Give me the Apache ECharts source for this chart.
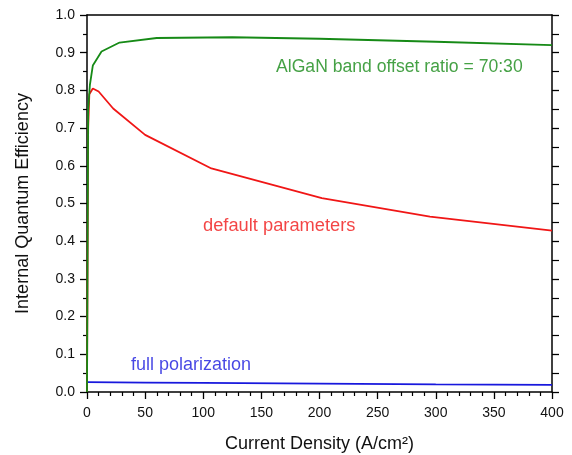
<!DOCTYPE html>
<html>
<head>
<meta charset="utf-8">
<script src="https://cdn.jsdelivr.net/npm/echarts@6/dist/echarts.min.js"></script>
<style>html,body{margin:0;padding:0;background:#fff;}#c{width:572px;height:455px;}</style>
</head>
<body>
<div id="c"></div>
<script>
// Data (x = current density A/cm^2, y = IQE)
const greenData = [[0,0],[1,0.75],[2.5,0.815],[5,0.866],[12.5,0.903],[28,0.927],[60,0.939],[125,0.941],[200,0.937],[300,0.929],[400,0.920]];
const redData = [[0,0],[1,0.70],[2,0.79],[5,0.805],[10,0.797],[22.5,0.752],[50,0.682],[107,0.593],[202,0.514],[295,0.465],[400,0.428]];
const blueData = [[0,0.026],[50,0.025],[100,0.024],[200,0.022],[300,0.020],[400,0.019]];
const annotations = [
  {text:'AlGaN band offset ratio = 70:30', x:162.6, y:0.862, color:'#168a16', size:17.6},
  {text:'default parameters', x:99.8, y:0.440, color:'#f01616', size:18.3},
  {text:'full polarization', x:37.8, y:0.072, color:'#1818dd', size:18}
];
const xTicks = [0,50,100,150,200,250,300,350,400];
const yTicks = [0.0,0.1,0.2,0.3,0.4,0.5,0.6,0.7,0.8,0.9,1.0];

const chart = echarts.init(document.getElementById('c'));
const font = 'Liberation Sans, Arial, sans-serif';
const axisLine = {show:true, onZero:false, lineStyle:{color:'#000', width:1.5}};
chart.setOption({
  animation:false,
  grid:{left:87, right:20, top:15, bottom:63, containLabel:false, outerBoundsMode:'none'},
  xAxis:[{
    type:'value', min:xTicks[0], max:xTicks[xTicks.length-1], interval:50,
    axisLine: axisLine,
    axisTick:{show:true, length:7, lineStyle:{color:'#000', width:1.3}},
    minorTick:{show:true, splitNumber:5, length:4, lineStyle:{color:'#000', width:1.2}},
    splitLine:{show:false},
    axisLabel:{fontFamily:font, fontSize:14, color:'#111', margin:14},
    name:'Current Density (A/cm²)', nameLocation:'middle', nameGap:43,
    nameTextStyle:{fontFamily:font, fontSize:18, color:'#111'}
  },{
    type:'value', position:'top', min:0, max:400, interval:50,
    axisLine: axisLine, axisTick:{show:false}, axisLabel:{show:false}, splitLine:{show:false}
  }],
  yAxis:[{
    type:'value', min:yTicks[0], max:yTicks[yTicks.length-1], interval:0.1,
    axisLine: axisLine,
    axisTick:{show:true, length:7, lineStyle:{color:'#000', width:1.3}},
    minorTick:{show:true, splitNumber:2, length:4, lineStyle:{color:'#000', width:1.2}},
    splitLine:{show:false},
    axisLabel:{fontFamily:font, fontSize:14, color:'#111', margin:12, formatter:v=>v.toFixed(1)},
    name:'Internal Quantum Efficiency', nameLocation:'middle', nameGap:55,
    nameTextStyle:{fontFamily:font, fontSize:18, color:'#111'}
  },{
    type:'value', position:'right', min:0, max:1, interval:0.1,
    axisLine: axisLine,
    axisTick:{show:true, length:7, lineStyle:{color:'#000', width:1.3}},
    minorTick:{show:true, splitNumber:2, length:7, lineStyle:{color:'#000', width:1.2}},
    axisLabel:{show:false}, splitLine:{show:false}
  }],
  series:[
    {type:'line', data:blueData, showSymbol:false, lineStyle:{color:'#1818dd', width:1.8}, z:3},
    {type:'line', data:redData, showSymbol:false, lineStyle:{color:'#f01616', width:1.8}, z:3},
    {type:'line', data:greenData, showSymbol:false, lineStyle:{color:'#168a16', width:1.8}, z:4},
    {type:'scatter', symbolSize:0, silent:true,
     data: annotations.map(a=>({value:[a.x,a.y], label:{show:true, position:'right', distance:0, formatter:a.text, color:a.color, fontFamily:font, fontSize:a.size}}))}
  ]
});
</script>
</body>
</html>
